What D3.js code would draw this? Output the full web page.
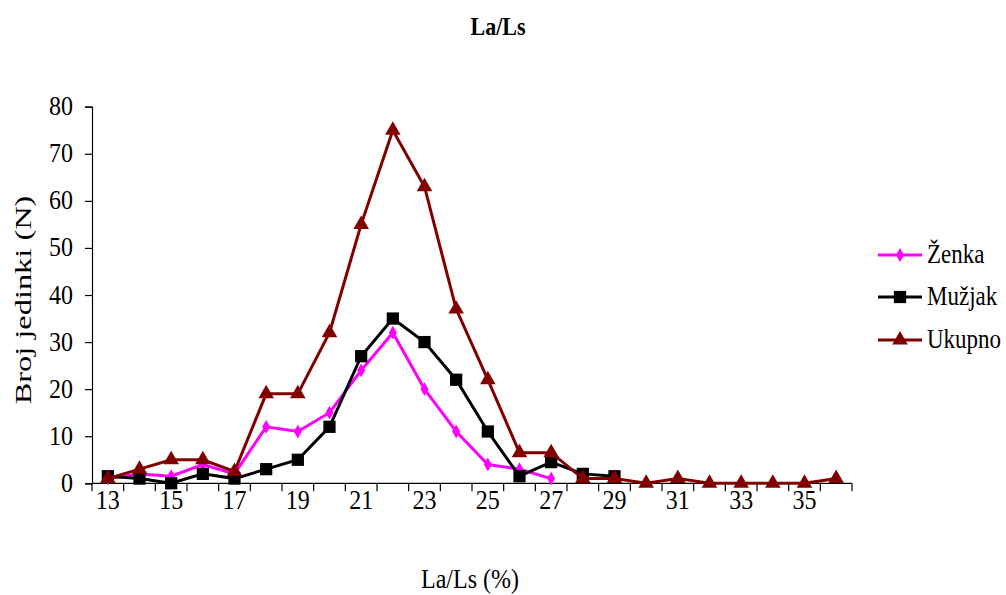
<!DOCTYPE html>
<html><head><meta charset="utf-8">
<script src="https://cdn.jsdelivr.net/npm/d3@7"></script>
<style>body{margin:0;background:#fff}svg{display:block}</style>
</head><body>
<svg id="c" width="1006" height="595"></svg>
<script>
const categories = [13,14,15,16,17,18,19,20,21,22,23,24,25,26,27,28,29,30,31,32,33,34,35,36];
const zenka  = [1, 2, 1.5, 4, 2, 12, 11, 15, 24, 32, 20, 11, 4, 3, 1];
const muzjak = [1.5, 1, 0, 2, 1, 3, 5, 12, 27, 35, 30, 22, 11, 1.5, 4.5, 2, 1.5];
const ukupno = [1, 3, 5, 5, 2.5, 19, 19, 32, 55, 75, 63, 37, 22, 6.5, 6.5, 1, 1, 0, 1, 0, 0, 0, 0, 1];
const yTicks = [0,10,20,30,40,50,60,70,80];
const xLabels = [13,15,17,19,21,23,25,27,29,31,33,35];
const seriesNames = ["Ženka", "Mužjak", "Ukupno"];

const svg = d3.select("#c");
const font = "'Liberation Serif', 'Times New Roman', serif";
const x = d3.scaleBand().domain(categories).range([92, 852]);
const y = d3.scaleLinear().domain([0, 80]).range([483.3, 106.7]);
const cx = c => x(c) + x.bandwidth()/2;
const SY = 1.18;

function txt(px, py, str, size, anchor, bold) {
  const t = svg.append("text").attr("transform", `translate(${px},${py}) scale(1,${SY})`)
    .attr("text-anchor", anchor).attr("font-family", font).attr("font-size", size).attr("fill", "#000").text(str);
  if (bold) t.attr("font-weight", "bold");
  return t;
}

// title
txt(498, 35, "La/Ls", 22, "middle", true);

// y axis
const yAxis = svg.append("g").attr("transform","translate(92,0)")
  .call(d3.axisLeft(y).tickValues(yTicks).tickSize(7).tickPadding(12));
yAxis.select(".domain").attr("stroke","#000").attr("stroke-width",1.2);
yAxis.selectAll(".tick line").attr("stroke","#000").attr("stroke-width",1.2);
yAxis.selectAll(".tick text").remove();
yTicks.forEach(v => txt(73, y(v) + 8.5, v, 24, "end"));

// x axis
const xg = svg.append("g").attr("transform","translate(0,483.3)");
xg.append("line").attr("x1",92).attr("x2",852).attr("stroke","#000").attr("stroke-width",1.2);
const bounds = categories.map(c => x(c)).concat([x(categories[categories.length-1]) + x.bandwidth()]);
xg.selectAll("line.tk").data(bounds).enter().append("line").attr("class","tk")
  .attr("x1", d=>d).attr("x2", d=>d).attr("y1",0).attr("y2",8).attr("stroke","#000").attr("stroke-width",1.2);
xLabels.forEach(v => txt(cx(v), 509, v, 24, "middle"));

// axis titles
svg.append("text").attr("transform","translate(31,300) scale(1,1.35) rotate(-90)").attr("text-anchor","middle")
  .attr("font-family", font).attr("font-size", 24).text("Broj jedinki (N)");
txt(470, 588, "La/Ls (%)", 24, "middle");

const line = d3.line().x(d=>cx(d.c)).y(d=>y(d.v));
const series = [
  {name: seriesNames[0], vals: zenka, color: "#ff00ff", sym: d3.symbolDiamond, size: 55, w: 3},
  {name: seriesNames[1], vals: muzjak, color: "#000000", sym: d3.symbolSquare, size: 150, w: 3},
  {name: seriesNames[2], vals: ukupno, color: "#800000", sym: d3.symbolTriangle, size: 105, w: 3}
];
const plot = svg.append("g");
series.forEach(s => {
  const pts = s.vals.map((v,i)=>({c: categories[i], v}));
  plot.append("path").datum(pts).attr("d", line).attr("fill","none")
    .attr("stroke", s.color).attr("stroke-width", s.w).attr("stroke-linejoin","miter");
  plot.selectAll(null).data(pts).enter().append("path")
    .attr("d", d3.symbol().type(s.sym).size(s.size))
    .attr("transform", d=>`translate(${cx(d.c)},${y(d.v)})`).attr("fill", s.color);
});

// legend
const ly = [255, 297, 340];
series.forEach((s,i) => {
  const g = svg.append("g").attr("transform", `translate(0,${ly[i]})`);
  g.append("line").attr("x1",878).attr("x2",922).attr("stroke",s.color).attr("stroke-width",3);
  g.append("path").attr("d", d3.symbol().type(s.sym).size(s.size)).attr("transform","translate(900,0)").attr("fill",s.color);
  txt(927, ly[i] + 8, s.name, 23, "start");
});
</script>
</body></html>
